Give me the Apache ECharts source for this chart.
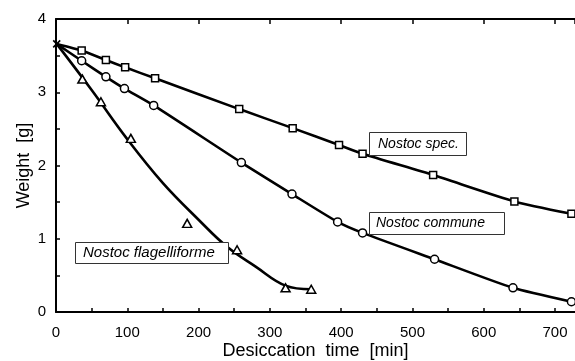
<!DOCTYPE html>
<html><head><meta charset="utf-8">
<script src="https://cdn.jsdelivr.net/npm/echarts@6/dist/echarts.min.js"></script>
<style>html,body{margin:0;padding:0;background:#fff}#c{width:575px;height:361px}</style>
</head><body><div id="c"></div>
<script>
// ---- data ----
const startPoint = [1, 3.66];
const specTime = [36, 70, 97, 139, 257, 332, 397, 430, 529, 643, 723];
const specWeight = [3.57, 3.44, 3.34, 3.19, 2.77, 2.51, 2.28, 2.16, 1.87, 1.51, 1.34];
const communeTime = [36, 70, 96, 137, 260, 331, 395, 430, 531, 641, 723];
const communeWeight = [3.43, 3.21, 3.05, 2.82, 2.04, 1.61, 1.23, 1.08, 0.72, 0.33, 0.14];
const flagTime = [37, 63, 105, 184, 254, 322, 358];
const flagWeight = [3.18, 2.87, 2.37, 1.21, 0.85, 0.33, 0.31];
const flagFitTime = [1, 50, 100, 150, 200, 240, 280, 322, 358];
const flagFitWeight = [3.66, 3.03, 2.36, 1.76, 1.26, 0.89, 0.62, 0.36, 0.31];
const xTicks = [0, 100, 200, 300, 400, 500, 600, 700];
const yTicks = [0, 1, 2, 3, 4];
const seriesNames = ['Nostoc spec.', 'Nostoc commune', 'Nostoc flagelliforme'];
const xTitle = 'Desiccation  time  [min]';
const yTitle = 'Weight  [g]';

function pairs(xs, ys, start) {
  const out = start ? [start.slice()] : [];
  xs.forEach((x, i) => out.push([x, ys[i]]));
  return out;
}

const FONT = 'Liberation Sans';
const chart = echarts.init(document.getElementById('c'), null, {renderer: 'canvas'});
const lineStyle = {color: '#000', width: 2.6};
const markerStyle = {color: '#fff', borderColor: '#000', borderWidth: 1.5, opacity: 1};

chart.setOption({
  animation: false,
  backgroundColor: '#fff',
  grid: {left: 56, top: 19, right: 0, bottom: 49, containLabel: false, outerBoundsMode: 'none'},
  xAxis: [{
    type: 'value', min: 0, max: 728, interval: 50, position: 'bottom',
    axisLine: {lineStyle: {color: '#000', width: 2}},
    axisTick: {inside: true, length: 4, lineStyle: {color: '#000', width: 1.5}},
    splitLine: {show: false},
    axisLabel: {color: '#000', fontFamily: FONT, fontSize: 15, margin: 13, showMaxLabel: false,
      formatter: v => xTicks.includes(v) ? String(v) : ''},
    name: xTitle, nameLocation: 'middle', nameGap: 30, nameMoveOverlap: false,
    nameTextStyle: {color: '#000', fontFamily: FONT, fontSize: 18}
  }, {
    type: 'value', min: 0, max: 728, interval: 100, position: 'top',
    axisLine: {show: true, lineStyle: {color: '#000', width: 2}},
    axisTick: {show: true, inside: true, length: 5, lineStyle: {color: '#000', width: 1.5}},
    axisLabel: {show: false}, splitLine: {show: false}
  }],
  yAxis: [{
    type: 'value', min: 0, max: 4, interval: 0.5,
    axisLine: {show: true, lineStyle: {color: '#000', width: 2}},
    axisTick: {show: true, inside: true, length: 4, lineStyle: {color: '#000', width: 1.5}},
    splitLine: {show: false},
    axisLabel: {color: '#000', fontFamily: FONT, fontSize: 15, margin: 10,
      formatter: v => yTicks.includes(v) ? String(v) : ''},
    name: yTitle, nameLocation: 'middle', nameGap: 23, nameRotate: 90, nameMoveOverlap: false,
    nameTextStyle: {color: '#000', fontFamily: FONT, fontSize: 18}
  }],
  series: [
    {type: 'line', data: pairs(specTime, specWeight, startPoint), showSymbol: false, smooth: 0.2,
      lineStyle, z: 2},
    {type: 'line', data: pairs(communeTime, communeWeight, startPoint), showSymbol: false, smooth: 0.2,
      lineStyle, z: 2},
    {type: 'line', data: pairs(flagFitTime, flagFitWeight), showSymbol: false, smooth: 0.4,
      lineStyle, z: 2},
    {type: 'scatter', data: pairs(specTime, specWeight), symbol: 'rect', symbolSize: 7,
      itemStyle: markerStyle, z: 3},
    {type: 'scatter', data: pairs(communeTime, communeWeight), symbol: 'circle', symbolSize: 8,
      itemStyle: markerStyle, z: 3},
    {type: 'scatter', data: pairs(flagTime, flagWeight), symbol: 'triangle', symbolSize: [9, 8],
      itemStyle: markerStyle, z: 3},
    {type: 'scatter', data: [startPoint], symbol: 'path://M0,0L10,10M10,0L0,10', symbolSize: 7,
      itemStyle: {color: 'none', borderColor: '#000', borderWidth: 1.6, opacity: 1}, z: 4}
  ],
  graphic: [
    {type: 'rect', shape: {x: 369.5, y: 132.5, width: 97, height: 23},
      style: {fill: '#fff', stroke: '#333', lineWidth: 1}, z: 10},
    {type: 'text', x: 378, y: 144, z: 11,
      style: {text: seriesNames[0], font: 'italic 14px "Liberation Sans"', fill: '#000', verticalAlign: 'middle'}},
    {type: 'rect', shape: {x: 369.5, y: 212.5, width: 135, height: 22},
      style: {fill: '#fff', stroke: '#333', lineWidth: 1}, z: 10},
    {type: 'text', x: 376, y: 223.5, z: 11,
      style: {text: seriesNames[1], font: 'italic 14px "Liberation Sans"', fill: '#000', verticalAlign: 'middle'}},
    {type: 'rect', shape: {x: 75.5, y: 242.5, width: 153, height: 21},
      style: {fill: '#fff', stroke: '#333', lineWidth: 1}, z: 10},
    {type: 'text', x: 83, y: 253, z: 11,
      style: {text: seriesNames[2], font: 'italic 15px "Liberation Sans"', fill: '#000', verticalAlign: 'middle'}}
  ]
});
</script></body></html>
